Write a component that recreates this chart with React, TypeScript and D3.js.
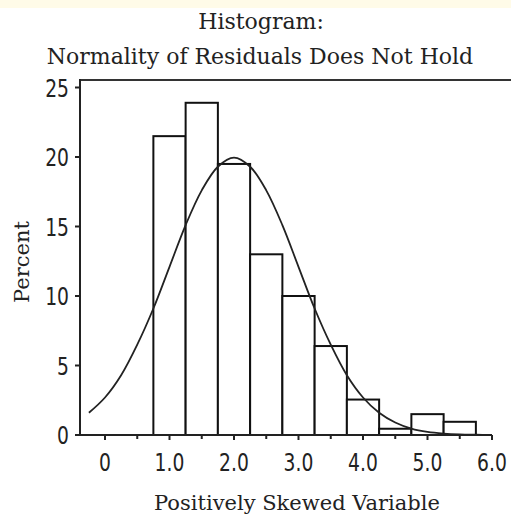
import React from "react";
import * as d3 from "d3";

// ---- data ----
const binStarts = [0.75, 1.25, 1.75, 2.25, 2.75, 3.25, 3.75, 4.25, 4.75, 5.25];
const binWidth = 0.5;
const percents = [21.5, 23.9, 19.5, 13.0, 10.0, 6.4, 2.55, 0.45, 1.5, 0.95];
const curveX = [-0.25, 0, 0.25, 0.5, 0.75, 1.0, 1.25, 1.5, 1.75, 2.0, 2.25, 2.5, 2.75, 3.0, 3.25, 3.5, 3.75, 4.0, 4.25, 4.5, 4.75, 5.0, 5.25, 5.5, 5.75, 6.0];
const curveY = [1.6, 2.7, 4.3, 6.5, 9.1, 12.1, 15.1, 17.6, 19.3, 19.95, 19.3, 17.6, 15.1, 12.1, 9.1, 6.5, 4.3, 2.7, 1.6, 0.9, 0.46, 0.22, 0.1, 0.04, 0.02, 0.01];
const yTicks = [0, 5, 10, 15, 20, 25];
const xTicks = [0, 1, 2, 3, 4, 5, 6];
const xTickLabels = ["0", "1.0", "2.0", "3.0", "4.0", "5.0", "6.0"];
const xMinorTicks = [0.5, 1.5, 2.5, 3.5, 4.5, 5.5];
const titleLines = ["Histogram:", "Normality of Residuals Does Not Hold"];
const xTitle = "Positively Skewed Variable";
const yTitle = "Percent";

const W = 511;
const H = 517;
const left = 80;
const top = 80;
const bottom = 435;

export default function App() {
  const x = d3.scaleLinear().domain([0, 6]).range([105, 492]);
  const y = d3.scaleLinear().domain([0, 25]).range([bottom, 87.5]);
  const axisRight = x(6);
  const line = d3
    .line<number>()
    .x((_, i) => x(curveX[i]))
    .y((d) => y(d))
    .curve(d3.curveCatmullRom);
  const tickFont = "'DejaVu Sans', sans-serif";
  const serif = "'DejaVu Serif', serif";
  return (
    <svg
      width={W}
      height={H}
      style={{ position: "fixed", left: 0, top: 0, background: "#fff" }}
    >
      <rect x={0} y={0} width={W} height={H} fill="#fff" />
      <rect x={0} y={0} width={W} height={8} fill="#fffbe8" />
      {/* title */}
      <g fontFamily={serif} fontSize={22} fill="#222" textAnchor="middle">
        <text x={261} y={29}>{titleLines[0]}</text>
        <text x={260} y={64}>{titleLines[1]}</text>
      </g>
      {/* bars */}
      <g>
        {binStarts.map((b, i) => (
          <rect
            key={i}
            x={x(b)}
            y={y(percents[i])}
            width={x(b + binWidth) - x(b)}
            height={y(0) - y(percents[i])}
            fill="#fff"
            stroke="#111"
            strokeWidth={2}
          />
        ))}
      </g>
      {/* normal curve */}
      <path d={line(curveY) || ""} fill="none" stroke="#222" strokeWidth={1.8} />
      {/* frame */}
      <line x1={left} x2={W} y1={top} y2={top} stroke="#333" strokeWidth={2} />
      <line x1={left} x2={left} y1={top - 1} y2={bottom + 1} stroke="#222" strokeWidth={2} />
      <line x1={left - 1} x2={axisRight} y1={bottom} y2={bottom} stroke="#222" strokeWidth={2} />
      {/* y ticks */}
      {yTicks.map((t) => (
        <g key={t}>
          <line x1={left - 5} x2={left} y1={y(t)} y2={y(t)} stroke="#222" strokeWidth={2} />
          <text
            transform={`translate(${left - 11},${y(t) + 9}) scale(0.78,1)`}
            textAnchor="end"
            fontFamily={tickFont}
            fontSize={24}
            fill="#222"
          >
            {t}
          </text>
        </g>
      ))}
      {/* x ticks */}
      {xTicks.map((t, i) => (
        <g key={t}>
          <line x1={x(t)} x2={x(t)} y1={bottom} y2={bottom + 5} stroke="#222" strokeWidth={2} />
          <text
            transform={`translate(${x(t)},${471}) scale(0.78,1)`}
            textAnchor="middle"
            fontFamily={tickFont}
            fontSize={24}
            fill="#222"
          >
            {xTickLabels[i]}
          </text>
        </g>
      ))}
      {xMinorTicks.map((t) => (
        <line key={t} x1={x(t)} x2={x(t)} y1={bottom} y2={bottom + 4} stroke="#222" strokeWidth={2} />
      ))}
      {/* axis titles */}
      <text x={297} y={510} textAnchor="middle" fontFamily={serif} fontSize={21} fill="#222">
        {xTitle}
      </text>
      <text
        transform={`translate(29,${262}) rotate(-90)`}
        textAnchor="middle"
        fontFamily={serif}
        fontSize={21}
        fill="#222"
      >
        {yTitle}
      </text>
    </svg>
  );
}
